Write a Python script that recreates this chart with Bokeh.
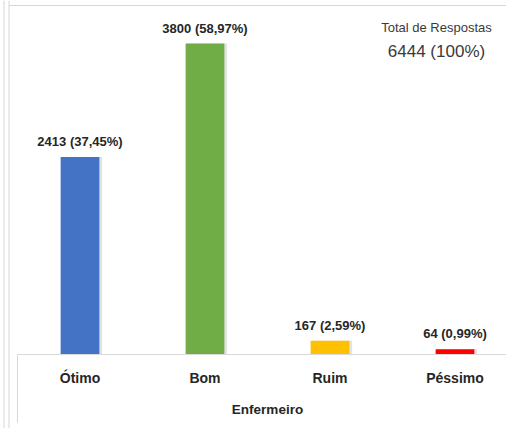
from bokeh.plotting import figure
from bokeh.models import (ColumnDataSource, Range1d, FixedTicker, Label, Span,
                          BoxAnnotation)
from bokeh.transform import dodge
from bokeh.embed import file_html
from bokeh.resources import INLINE
from bokeh.core.properties import value

categories = ["Ótimo", "Bom", "Ruim", "Péssimo"]
counts = [2413, 3800, 167, 64]
percents = ["37,45%", "58,97%", "2,59%", "0,99%"]
colors = ["#4472C4", "#70AD47", "#FFC000", "#FF0000"]
total_label = ["Total de Respostas", "6444 (100%)"]
axis_title = "Enfermeiro"

xpos = [i + 0.5 for i in range(len(categories))]
labels = [f"{c} ({p})" for c, p in zip(counts, percents)]

src = ColumnDataSource(dict(x=xpos, top=counts, color=colors, label=labels))

W, H = 506, 428
# layout helpers: pixel geometry of the chart area
X0, PX_PER_CAT = 17, 125.0       # left of category axis, pixels per category
BASE, PX_PER_UNIT = 354, 311 / 3800.0


def xd(px):
    return (px - X0) / PX_PER_CAT


def yd(py):
    return (BASE - py) / PX_PER_UNIT


p = figure(width=W, height=H, output_backend="svg", toolbar_location=None,
           x_range=Range1d(xd(0), xd(W)), y_range=Range1d(yd(H), yd(0)),
           min_border=0)
p.outline_line_color = None
p.xgrid.visible = False
p.ygrid.visible = False
p.yaxis.visible = False
p.background_fill_color = "white"
p.border_fill_color = "white"

# shadow
p.vbar(x=dodge("x", 0.022, range=p.x_range), top="top", width=0.31, bottom=0,
       source=src, fill_color="#7F7F7F", fill_alpha=0.22, line_color=None)
p.vbar(x="x", top="top", width=0.31, bottom=0, source=src,
       fill_color="color", line_color=None)

p.text(x="x", y="top", text="label", source=src, text_align="center",
       text_baseline="bottom", y_offset=-8, text_font=value("Liberation Sans"),
       text_font_style="bold", text_font_size="13px", text_color="#262626")

ax = p.xaxis[0]
ax.fixed_location = 0
ax.bounds = (0, xd(W))
ax.ticker = FixedTicker(ticks=xpos)
ax.major_label_overrides = {x: c for x, c in zip(xpos, categories)}
ax.major_tick_line_color = None
ax.minor_tick_line_color = None
ax.axis_line_color = "#D9D9D9"
ax.major_label_standoff = 9
ax.major_label_text_font = "Liberation Sans"
ax.major_label_text_font_style = "bold"
ax.major_label_text_font_size = "14px"
ax.major_label_text_color = "#262626"

p.add_layout(Label(x=2.0, y=yd(409), text=axis_title, text_align="center",
                   text_baseline="middle", text_font="Liberation Sans",
                   text_font_style="bold", text_font_size="13.5px", text_color="#262626"))

p.add_layout(Label(x=xd(436), y=yd(19), text=total_label[0],
                   text_align="center", text_baseline="top", text_font="Liberation Sans",
                   text_font_size="13px", text_color="#3A3A3A"))
p.add_layout(Label(x=xd(436), y=yd(41), text=total_label[1],
                   text_align="center", text_baseline="top", text_font="Liberation Sans",
                   text_font_size="17px", text_color="#3A3A3A"))

# chart-frame decorations
grey = "#D6D6D6"
p.add_layout(BoxAnnotation(left=xd(X0 - 0.5), right=xd(X0 + 0.5), top=0, bottom=yd(422),
                           fill_color=grey, fill_alpha=1, line_color=None))
p.add_layout(Span(location=xd(3.5), dimension="height", line_color=grey, line_width=1))
p.add_layout(Span(location=xd(8.5), dimension="height", line_color=grey, line_width=1))
p.add_layout(BoxAnnotation(left=xd(8.5), top=yd(4.5), bottom=yd(5.5),
                           fill_color=grey, fill_alpha=1, line_color=None))

open("out.html", "w").write(file_html(p, INLINE))
